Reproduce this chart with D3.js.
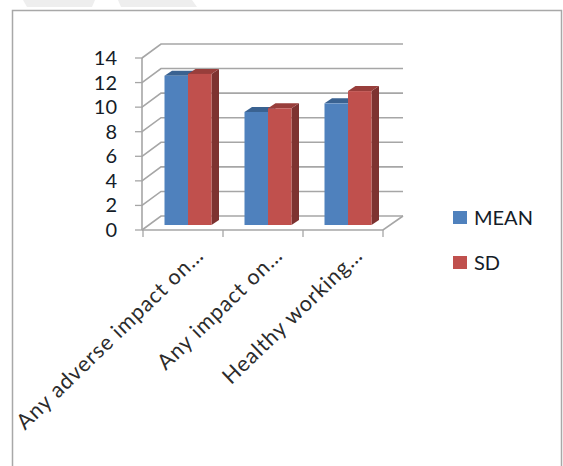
<!DOCTYPE html>
<html><head><meta charset="utf-8">
<script src="https://cdn.jsdelivr.net/npm/d3@7"></script>
<style>html,body{margin:0;background:#fff}svg{display:block}text{font-family:Lato,"Open Sans",sans-serif}</style>
</head><body><svg id="c" width="563" height="466"></svg>
<script>
// Clustered 3D-style column chart: mean and SD per survey item
const categories = ["Any adverse impact on…", "Any impact on…", "Healthy working…"];
const meanValues = [12.15, 9.2, 9.9];
const sdValues = [12.3, 9.5, 10.9];
const seriesNames = ["MEAN", "SD"];
const yTicks = [0, 2, 4, 6, 8, 10, 12, 14];

const svg = d3.select("#c");
const grid = "#a6a6a6", ink = "#141c28", labelInk = "#2b2b2b";
const front = {x0: 143, x1: 383, y0: 230, y1: 58};
const wall = {dx: 19, dy: -14};
const depth = {dx: 7.5, dy: -5};
const baseY = 225;

const y = d3.scaleLinear().domain([0, 14]).range([front.y0, front.y1]);
const x0 = d3.scaleBand().domain(categories).range([front.x0, front.x1]).paddingInner(0);
const x1 = d3.scaleBand().domain(seriesNames).range([21.5, 68.5]);
const barY = v => baseY - (front.y0 - y(v));

const palette = {
  MEAN: {face: "#4f81bd", top: "#3a6291", side: "#2f5079"},
  SD: {face: "#c0504d", top: "#983e3b", side: "#7d3230"}
};

// Pale page shading above the chart frame
svg.append("path").attr("fill", "#eeeeee")
  .attr("d", "M23,0H95L92,7H27ZM118,0H192L197,7H121Z");

svg.append("rect").attr("x", 12.5).attr("y", 10.5).attr("width", 549).attr("height", 470)
  .attr("fill", "#fff").attr("stroke", "#a8a8a8").attr("stroke-width", 1.5);

// Back wall gridlines and their slanted floor-to-wall connectors
yTicks.forEach(t => {
  svg.append("path").attr("fill", "none").attr("stroke", grid).attr("stroke-width", 1.6)
    .attr("d", `M${front.x0 - 1},${y(t)}L${front.x0 + wall.dx - 1},${y(t) + wall.dy}H403`);
  svg.append("line").attr("x1", front.x0 - 8).attr("x2", front.x0).attr("y1", y(t)).attr("y2", y(t))
    .attr("stroke", grid).attr("stroke-width", 1.3);
  svg.append("text").attr("x", 117).attr("y", y(t) + 7).attr("text-anchor", "end")
    .attr("font-size", 20).attr("fill", ink).text(t);
});

svg.append("line").attr("x1", front.x0 - 1).attr("x2", front.x0 - 1).attr("y1", y(14)).attr("y2", y(0))
  .attr("stroke", grid).attr("stroke-width", 1.6);
svg.append("path").attr("fill", "none").attr("stroke", grid).attr("stroke-width", 1.6)
  .attr("d", `M${front.x0 - 1},${y(0)}H${front.x1}L403,${y(0) + wall.dy}`);

// Category tick marks
d3.range(categories.length + 1).forEach(i => {
  const px = front.x0 + i * x0.bandwidth();
  svg.append("line").attr("x1", px).attr("x2", px).attr("y1", y(0)).attr("y2", y(0) + 7)
    .attr("stroke", grid).attr("stroke-width", 1.3);
});

// Columns are painted series by series so the nearer face overlaps cleanly
const columns = [];
categories.forEach((c, i) => {
  columns.push({c, s: "MEAN", v: meanValues[i]});
  columns.push({c, s: "SD", v: sdValues[i]});
});
const g = svg.append("g").selectAll("g").data(columns).join("g");
g.append("path").attr("fill", d => palette[d.s].side).attr("d", d => {
  const r = x0(d.c) + x1(d.s) + x1.bandwidth(), t = barY(d.v);
  return `M${r},${t}l${depth.dx},${depth.dy}V${baseY + depth.dy}l${-depth.dx},${-depth.dy}Z`;
});
g.append("path").attr("fill", d => palette[d.s].top).attr("d", d => {
  const l = x0(d.c) + x1(d.s), t = barY(d.v), w = x1.bandwidth();
  return `M${l},${t}l${depth.dx},${depth.dy}h${w}l${-depth.dx},${-depth.dy}Z`;
});
g.append("rect")
  .attr("x", d => x0(d.c) + x1(d.s)).attr("width", x1.bandwidth())
  .attr("y", d => barY(d.v)).attr("height", d => baseY - barY(d.v))
  .attr("fill", d => palette[d.s].face);

// Slanted category labels ending just under each band
const labelAnchor = [[205, 257], [284, 257], [364, 257]];
categories.forEach((c, i) => {
  svg.append("text").attr("text-anchor", "end")
    .attr("transform", `translate(${labelAnchor[i][0]},${labelAnchor[i][1]}) rotate(-44)`)
    .attr("font-size", 21.5).attr("letter-spacing", 0.9).attr("fill", labelInk).text(c);
});

// Legend
seriesNames.forEach((s, i) => {
  const ly = 217.5 + i * 45;
  svg.append("rect").attr("x", 453).attr("y", ly - 6.5).attr("width", 14).attr("height", 13)
    .attr("fill", palette[s].face);
  svg.append("text").attr("x", 474).attr("y", ly + 7).attr("font-size", 20).attr("fill", ink).text(s);
});
</script></body></html>
